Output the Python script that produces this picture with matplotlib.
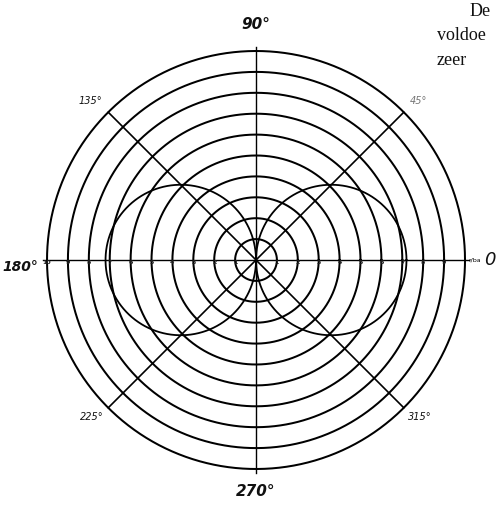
import numpy as np
import matplotlib
matplotlib.use("Agg")
import matplotlib.pyplot as plt

# ring radii (fraction of outer ring) and their tiny axis labels
ring_r = [0.1, 0.2, 0.3, 0.4, 0.5, 0.6, 0.7, 0.8, 0.9, 1.0]
ring_labels = ["1", "2", "3", "4", "5", "6", "7", "8", "9", "10"]

# radial direction lines (degrees)
ray_deg = [0, 45, 90, 135, 180, 225, 270, 315]

# lobe size of the figure-eight pattern
lobe_max = 0.72

fig = plt.figure(figsize=(4.99, 5.09), dpi=100)
ax = fig.add_axes([0.0942, 0.0786, 0.8377, 0.8212], projection="polar")
ax.set_ylim(0, 1)
ax.grid(False)
ax.set_xticks([])
ax.set_yticks([])
ax.spines["polar"].set_visible(False)
ax.patch.set_alpha(0)

theta = np.linspace(0, 2 * np.pi, 720)

# concentric rings
for r in ring_r:
    ax.plot(theta, np.full_like(theta, r), color="black", lw=1.45, clip_on=False)

# radial lines
for d in ray_deg:
    a = np.deg2rad(d)
    ext = 1.02 if d % 90 == 0 else 1.0
    ax.plot([a, a], [0, ext], color="black", lw=1.0 if d % 90 == 0 else 1.2,
            clip_on=False)

# figure-eight pattern
ax.plot(theta, lobe_max * np.abs(np.cos(theta)), color="black", lw=1.3)

# small labels along the horizontal axis
for r, lab in zip(ring_r, ring_labels):
    for side in (0, np.pi):
        if side == 0 and r == 1.0:
            continue
        ax.text(side, r, lab, fontsize=4.5, fontweight="bold",
                ha="center", va="top", color="#222222")

# angle labels
lab_kw = dict(fontsize=11, style="italic", fontweight="bold", color="#111111",
              family="DejaVu Sans")
ax.text(np.deg2rad(90), 1.125, "90°", ha="center", va="center", **lab_kw)
ax.text(np.deg2rad(270), 1.11, "270°", ha="center", va="center", **lab_kw)
ax.text(np.pi, 1.04, "180°", ha="right", va="top", fontsize=10,
        style="italic", fontweight="bold", color="#111111")
ax.text(0, 1.12, "0", ha="center", va="center", fontsize=13, style="italic",
        color="#111111")
ax.text(0, 1.015, "r/ba", ha="left", va="center", fontsize=4.5)

small_kw = dict(fontsize=7, style="italic", color="#111111")
ax.text(np.deg2rad(135), 1.04, "135°", ha="right", va="bottom", **small_kw)
ax.text(np.deg2rad(45), 1.04, "45°", ha="left", va="bottom", color="#777777",
        fontsize=7, style="italic")
ax.text(np.deg2rad(225), 1.03, "225°", ha="right", va="top", **small_kw)
ax.text(np.deg2rad(315), 1.03, "315°", ha="left", va="top", **small_kw)

# cut-off book text at the top right
serif = dict(family="Liberation Serif", fontsize=13, color="#111111")
fig.text(0.940, 0.978, "De", ha="left", va="center", **serif)
fig.text(0.875, 0.930, "voldoe", ha="left", va="center", **serif)
fig.text(0.875, 0.882, "zeer", ha="left", va="center", **serif)

fig.savefig("out.png", dpi=100)
